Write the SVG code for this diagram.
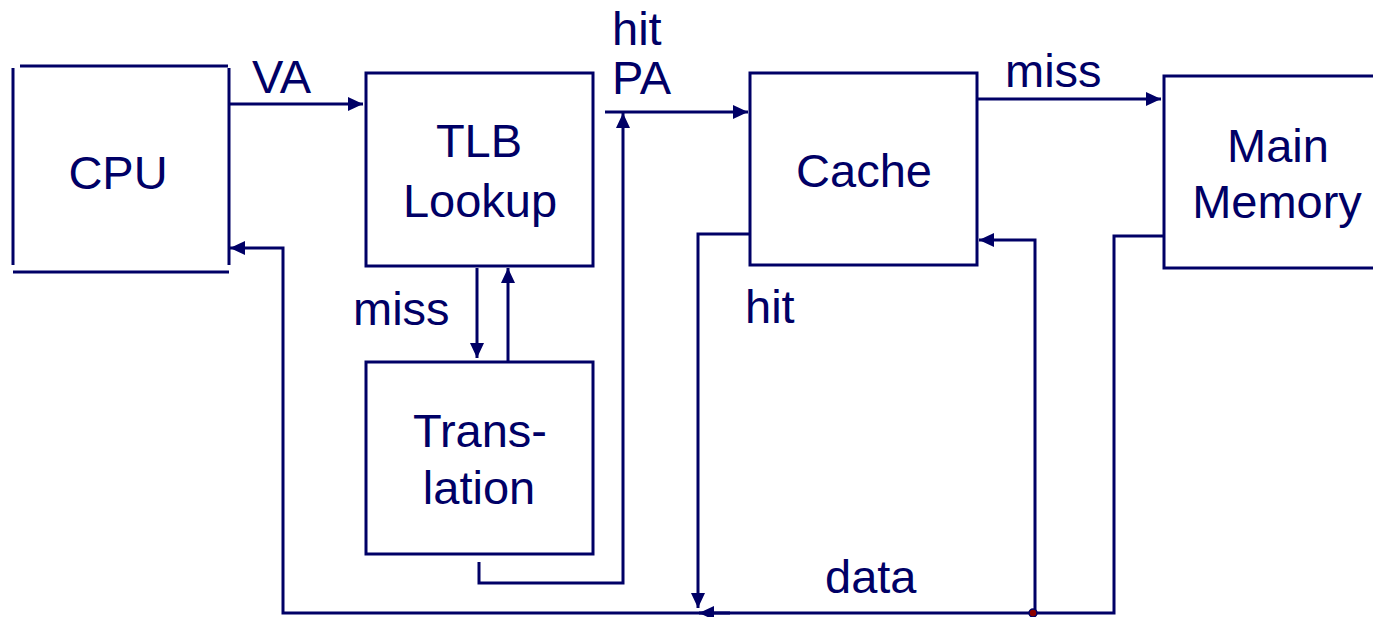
<svg xmlns="http://www.w3.org/2000/svg" width="1373" height="617" viewBox="0 0 1373 617">
<style>
.box{fill:#fff;stroke:#000066;stroke-width:3}
.ln{fill:none;stroke:#000066;stroke-width:3}
.t{font-family:"Liberation Sans",Arial,sans-serif;font-size:47px;fill:#000066}
.m{text-anchor:middle}
</style>
<defs>
<marker id="ah" markerUnits="userSpaceOnUse" markerWidth="16" markerHeight="14" refX="15" refY="7" orient="auto">
<path d="M0,0 L15,7 L0,14 z" fill="#000066"/>
</marker>
</defs>
<rect width="1373" height="617" fill="#fff"/>
<g id="connectors">
<path class="ln" d="M229,104 H363" marker-end="url(#ah)"/>
<path class="ln" d="M1164,236 H1114 V613 H283 V248 H230" marker-end="url(#ah)"/>
<path class="ln" d="M730,613 H699" marker-end="url(#ah)"/>
<path class="ln" d="M477,268 V358" marker-end="url(#ah)"/>
<path class="ln" d="M508,361 V268" marker-end="url(#ah)"/>
<path class="ln" d="M479,562 V583 H623 V113" marker-end="url(#ah)"/>
<path class="ln" d="M605,112 H748" marker-end="url(#ah)"/>
<path class="ln" d="M750,234 H698 V608" marker-end="url(#ah)"/>
<path class="ln" d="M977,99 H1161" marker-end="url(#ah)"/>
<path class="ln" d="M1035,613 V240 H979" marker-end="url(#ah)"/>
<circle cx="1033" cy="613" r="4" fill="#8b0000" stroke="#000066" stroke-width="1.5"/>
<text class="t" x="252" y="93">VA</text>
<text class="t" x="612" y="45">hit</text>
<text class="t" x="612" y="94">PA</text>
<text class="t" x="1005" y="87">miss</text>
<text class="t" x="353" y="325">miss</text>
<text class="t" x="745" y="323">hit</text>
<text class="t" x="825" y="593">data</text>
</g>
<g id="cpu">
<path class="ln" d="M20,66 H228 M13,68 V265 M229,68 V265 M13,272 H229"/>
<text class="t m" x="118" y="189">CPU</text>
</g>
<g id="tlb">
<rect class="box" x="366" y="73" width="227" height="193"/>
<text class="t m" x="479" y="157">TLB</text>
<text class="t m" x="480" y="217">Lookup</text>
</g>
<g id="translation">
<rect class="box" x="366" y="362" width="227" height="192"/>
<text class="t m" x="480" y="447">Trans-</text>
<text class="t m" x="479" y="504">lation</text>
</g>
<g id="cache">
<rect class="box" x="750" y="73" width="227" height="192"/>
<text class="t m" x="864" y="187">Cache</text>
</g>
<g id="memory">
<rect class="box" x="1164" y="76" width="230" height="192"/>
<text class="t m" x="1278" y="162">Main</text>
<text class="t m" x="1277" y="218">Memory</text>
</g>
</svg>
